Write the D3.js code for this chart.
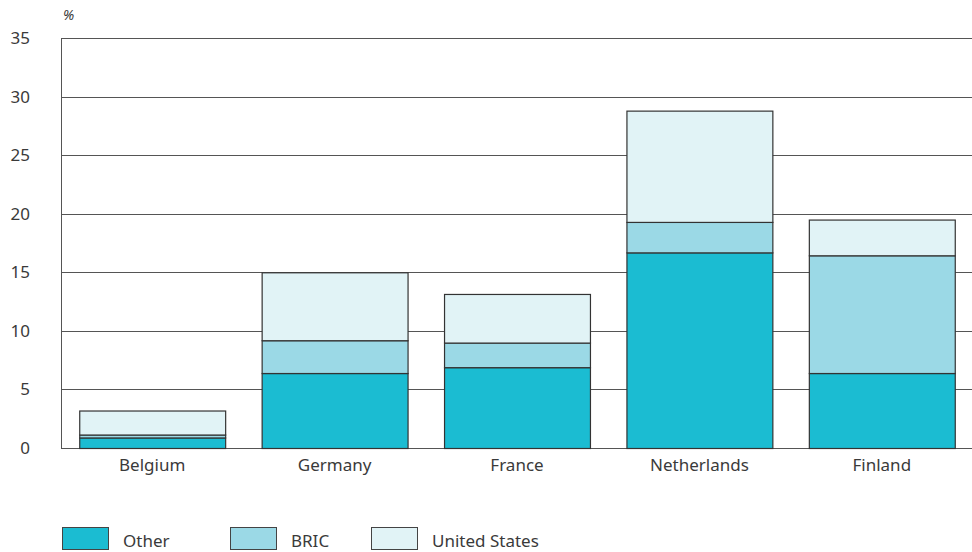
<!DOCTYPE html>
<html>
<head>
<meta charset="utf-8">
<script src="https://cdn.jsdelivr.net/npm/d3@7"></script>
<style>
  html, body { margin: 0; padding: 0; background: #fff; }
  svg { display: block; font-family: "Noto Sans", "Open Sans", sans-serif; }
</style>
</head>
<body>
<svg id="chart" width="972" height="552"></svg>
<script>
// Country categories along the x axis
const countries = ["Belgium", "Germany", "France", "Netherlands", "Finland"];
// Stacked components (percent), bottom to top
const other = [0.9, 6.4, 6.9, 16.7, 6.4];
const bric = [0.25, 2.8, 2.1, 2.6, 10.05];
const unitedStates = [2.05, 5.8, 4.15, 9.5, 3.05];
const seriesNames = ["Other", "BRIC", "United States"];
const yTicks = [0, 5, 10, 15, 20, 25, 30, 35];

const colors = ["#1bbcd2", "#9bd9e6", "#e1f3f6"];
const textColor = "#3a3a3a";

const svg = d3.select("#chart");
const margin = { left: 61, right: 0, top: 38, bottom: 104 };
const W = 972, H = 552;
const innerBottom = H - margin.bottom; // 448

const x = d3.scaleBand().domain(countries)
  .range([margin.left, W - margin.right + 1])
  .paddingInner(0.2).paddingOuter(0.1);
const y = d3.scaleLinear().domain([0, 35]).range([innerBottom, margin.top]);

const rows = countries.map((c, i) => ({
  country: c, "Other": other[i], "BRIC": bric[i], "United States": unitedStates[i]
}));
const stacked = d3.stack().keys(seriesNames)(rows);

// Horizontal gridlines
svg.append("g").selectAll("line").data(yTicks).join("line")
  .attr("x1", margin.left).attr("x2", W)
  .attr("y1", d => Math.round(y(d)) + 0.5).attr("y2", d => Math.round(y(d)) + 0.5)
  .attr("stroke", "#555").attr("stroke-width", 1);

// Vertical axis line
svg.append("line")
  .attr("x1", margin.left + 0.5).attr("x2", margin.left + 0.5)
  .attr("y1", y(35)).attr("y2", y(0) + 0.5)
  .attr("stroke", "#555");

// Y tick labels
svg.append("g").selectAll("text").data(yTicks).join("text")
  .attr("x", 30).attr("y", d => y(d) + 6)
  .attr("text-anchor", "end")
  .attr("font-size", 17).attr("fill", textColor)
  .text(d => d);

svg.append("text").attr("x", 63).attr("y", 20)
  .attr("font-size", 14).attr("font-style", "italic").attr("fill", textColor)
  .text("%");

// Stacked bars
svg.append("g").selectAll("g").data(stacked).join("g")
  .attr("fill", (d, i) => colors[i])
  .selectAll("rect").data(d => d).join("rect")
  .attr("x", d => x(d.data.country) + 0.5)
  .attr("width", x.bandwidth())
  .attr("y", d => y(d[1]) + 0.5)
  .attr("height", d => y(d[0]) - y(d[1]))
  .attr("stroke", "#333").attr("stroke-width", 1.2);

// X category labels
svg.append("g").selectAll("text").data(countries).join("text")
  .attr("x", d => x(d) + x.bandwidth() / 2)
  .attr("y", 471)
  .attr("text-anchor", "middle")
  .attr("font-size", 17).attr("fill", textColor)
  .text(d => d);

// Legend
const legendX = [62, 230, 371];
const legend = svg.append("g").selectAll("g").data(seriesNames).join("g")
  .attr("transform", (d, i) => `translate(${legendX[i]},527)`);
legend.append("rect")
  .attr("x", 0.5).attr("y", 0.5).attr("width", 46).attr("height", 22)
  .attr("fill", (d, i) => colors[i]).attr("stroke", "#444").attr("stroke-width", 1);
legend.append("text")
  .attr("x", 61).attr("y", 20)
  .attr("font-size", 17).attr("fill", textColor)
  .text(d => d);
</script>
</body>
</html>
